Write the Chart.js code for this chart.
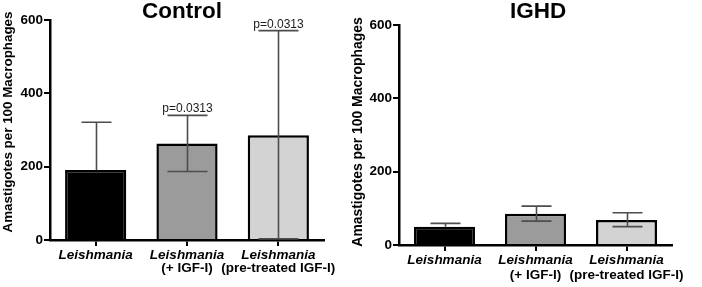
<!DOCTYPE html>
<html>
<head>
<meta charset="utf-8">
<script src="https://cdn.jsdelivr.net/npm/chart.js@4.4.1/dist/chart.umd.min.js"></script>
<style>
    html, body { margin: 0; padding: 0; background: #fff; }
    .row { display: flex; width: 702px; height: 287px; }
    canvas { display: block; }
</style>
</head>
<body>
<div class="row">
    <canvas id="controlChart" width="351" height="287"></canvas>
    <canvas id="ighdChart" width="351" height="287"></canvas>
</div>
<script>
// Categories (first line italic, second line plain)
const catNames = ['Leishmania', 'Leishmania', 'Leishmania'];
const catNotes = ['', '(+ IGF-I)', '(pre-treated IGF-I)'];
const yTicks = [0, 200, 400, 600];
const barColors = ['#000000', '#9b9b9b', '#d3d3d3'];

// Control panel
const controlMeans = [191, 263, 286];
const controlHigh = [321, 340, 571];
const controlLow = [null, 187, 3];
const controlP = [null, 'p=0.0313', 'p=0.0313'];

// IGHD panel
const ighdMeans = [50, 85, 68];
const ighdHigh = [59, 106, 88];
const ighdLow = [null, 65, 50];
const ighdP = [null, null, null];

const FONT = 'Arial, "Liberation Sans", sans-serif';

// Draws error bars and p values on top of the bars
const errorPlugin = {
    id: 'errors',
    afterDatasetsDraw(chart) {
        const cfg = chart.options.plugins.extras;
        const ctx = chart.ctx;
        const ys = chart.scales.y;
        const meta = chart.getDatasetMeta(0);

        ctx.save();
        ctx.strokeStyle = '#4d4d4d';
        ctx.lineWidth = 1.6;
        meta.data.forEach((bar, i) => {
            const x = Math.round(bar.x) + 0.5;
            const yMean = ys.getPixelForValue(cfg.means[i]);
            const yHi = ys.getPixelForValue(cfg.high[i]);
            const half = (i === 0 ? cfg.cap0 : cfg.cap) / 2;
            ctx.beginPath();
            ctx.moveTo(x, yMean);
            ctx.lineTo(x, yHi);
            ctx.moveTo(x - half, yHi);
            ctx.lineTo(x + half, yHi);
            if (cfg.low[i] !== null) {
                const yLo = ys.getPixelForValue(cfg.low[i]);
                ctx.moveTo(x, yMean);
                ctx.lineTo(x, yLo);
                ctx.moveTo(x - half, yLo);
                ctx.lineTo(x + half, yLo);
            }
            ctx.stroke();

            if (cfg.p[i]) {
                ctx.fillStyle = '#1a1a1a';
                ctx.font = 'normal 12px ' + FONT;
                ctx.textAlign = 'center';
                ctx.textBaseline = 'alphabetic';
                ctx.fillText(cfg.p[i], x, yHi - 3);
            }
        });
        ctx.restore();
    },
    // panel title, rotated y title and the two-line category labels
    afterDraw(chart) {
        const cfg = chart.options.plugins.extras;
        const ctx = chart.ctx;
        const xs = chart.scales.x;
        const area = chart.chartArea;

        ctx.save();
        ctx.fillStyle = '#000';
        ctx.textAlign = 'center';
        ctx.textBaseline = 'middle';

        ctx.font = 'bold 22.5px ' + FONT;
        ctx.fillText(cfg.title, cfg.titleX, 12);

        catNames.forEach((name, i) => {
            const x = xs.getPixelForValue(i);
            ctx.font = 'italic bold 13.5px ' + FONT;
            ctx.fillText(name, x, area.bottom + 15);
            if (catNotes[i]) {
                ctx.font = 'bold 13.5px ' + FONT;
                ctx.fillText(catNotes[i], x, area.bottom + cfg.line2);
            }
        });

        ctx.translate(cfg.yTitleX, cfg.yTitleY);
        ctx.rotate(-Math.PI / 2);
        ctx.font = 'bold ' + cfg.yTitleSize + 'px ' + FONT;
        ctx.fillText('Amastigotes per 100 Macrophages', 0, 0);
        ctx.restore();
    }
};

function makePanel(canvasId, opts) {
    const ctx = document.getElementById(canvasId).getContext('2d');
    return new Chart(ctx, {
        type: 'bar',
        data: {
            labels: catNames.map((n, i) => n + ' ' + catNotes[i]),
            datasets: [{
                data: opts.means,
                backgroundColor: barColors,
                borderColor: '#000000',
                borderWidth: 2.5,
                borderSkipped: 'start',
                categoryPercentage: 1,
                barPercentage: 0.67
            }]
        },
        options: {
            responsive: false,
            animation: false,
            layout: {
                padding: { left: 0, top: opts.top, right: opts.right, bottom: 0 }
            },
            scales: {
                x: {
                    offset: true,
                    grid: {
                        offset: false,
                        drawOnChartArea: false,
                        drawTicks: true,
                        tickLength: 6,
                        color: '#000000',
                        lineWidth: 2
                    },
                    border: { display: true, color: '#000000', width: 2.5 },
                    ticks: { display: false },
                    afterFit(scale) { scale.height = opts.xHeight; }
                },
                y: {
                    min: 0,
                    max: 600,
                    grid: {
                        drawOnChartArea: false,
                        drawTicks: true,
                        tickLength: 6,
                        color: '#000000',
                        lineWidth: 2
                    },
                    border: { display: true, color: '#000000', width: 2.5 },
                    ticks: {
                        color: '#000000',
                        padding: 1,
                        font: { family: FONT, size: 13.5, weight: 'bold' }
                    },
                    afterBuildTicks(scale) {
                        scale.ticks = yTicks.map(v => ({ value: v }));
                    },
                    afterFit(scale) { scale.width = opts.yWidth; }
                }
            },
            plugins: {
                legend: { display: false },
                tooltip: { enabled: false },
                title: { display: false },
                extras: {
                    title: opts.title,
                    titleX: opts.titleX,
                    yTitleX: opts.yTitleX,
                    yTitleY: opts.yTitleY,
                    yTitleSize: opts.yTitleSize,
                    line2: opts.line2,
                    means: opts.means,
                    high: opts.high,
                    low: opts.low,
                    p: opts.p,
                    cap: opts.cap,
                    cap0: opts.cap0
                }
            }
        },
        plugins: [errorPlugin]
    });
}

makePanel('controlChart', {
    title: 'Control', titleX: 182,
    top: 20, right: 27, yWidth: 50, xHeight: 47,
    yTitleX: 8, yTitleY: 122, yTitleSize: 13.4, line2: 28.5,
    means: controlMeans, high: controlHigh, low: controlLow, p: controlP,
    cap: 40, cap0: 30
});

makePanel('ighdChart', {
    title: 'IGHD', titleX: 187,
    top: 25, right: 30, yWidth: 48, xHeight: 42,
    yTitleX: 7, yTitleY: 132, yTitleSize: 13.9, line2: 30.5,
    means: ighdMeans, high: ighdHigh, low: ighdLow, p: ighdP,
    cap: 30, cap0: 30
});
</script>
</body>
</html>
